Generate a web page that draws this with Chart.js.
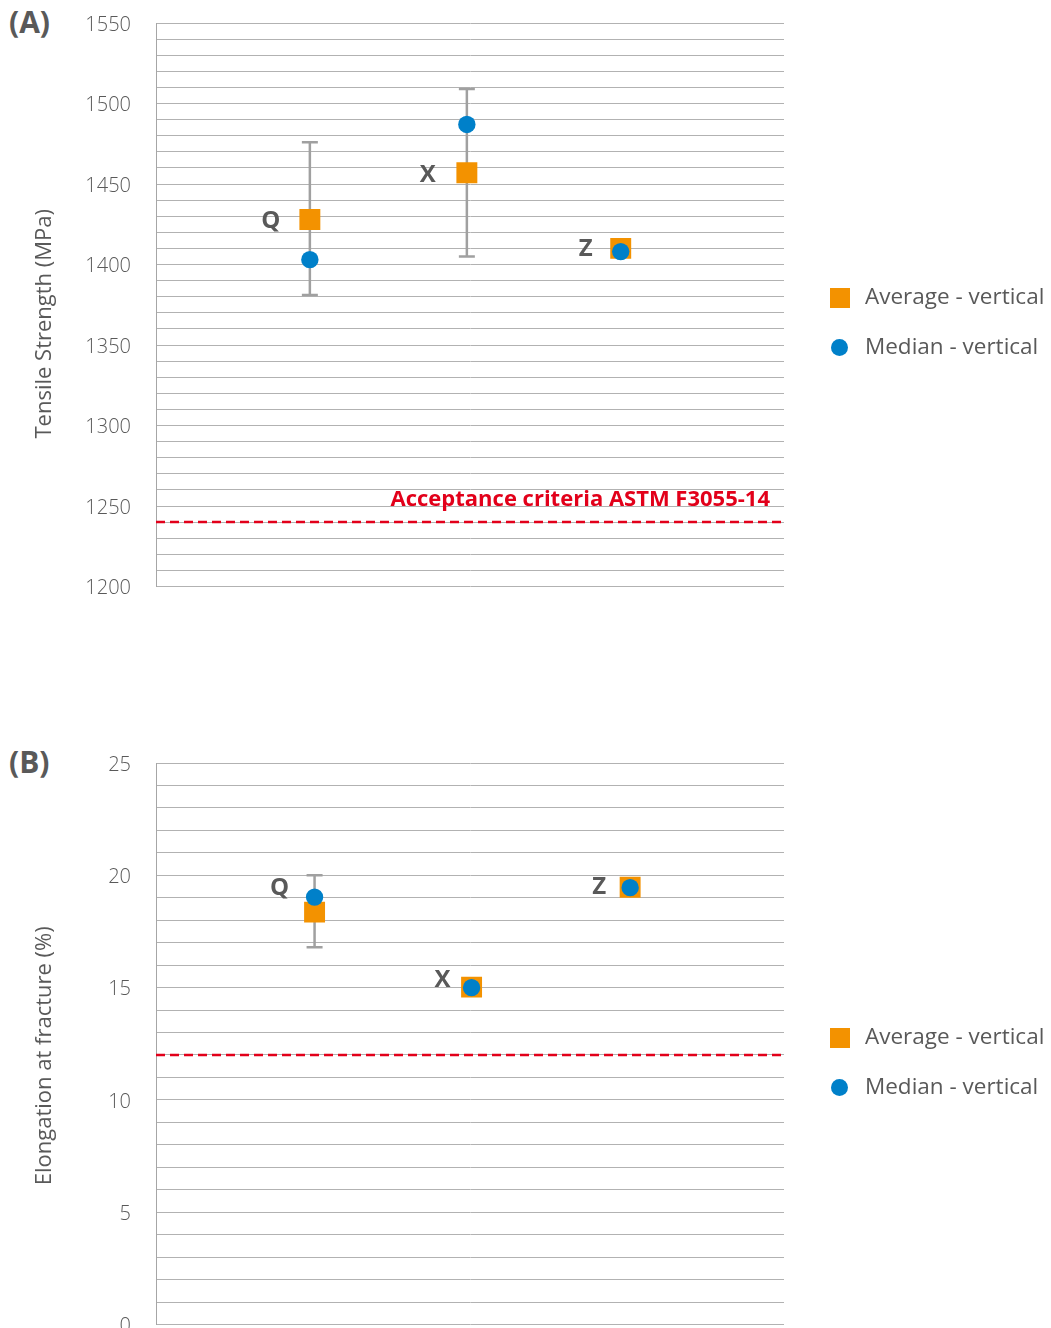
<!DOCTYPE html>
<html>
<head>
<meta charset="utf-8">
<script src="https://cdn.jsdelivr.net/npm/chart.js@4.4.1/dist/chart.umd.min.js"></script>
<style>
  body { margin: 0; background: #fff; width: 1051px; height: 1328px; overflow: hidden; position: relative; font-family: 'Open Sans', sans-serif; }
  .panel { position: absolute; left: 0; width: 1051px; }
  .tag { position: absolute; left: 9px; font: bold 30px 'Open Sans', sans-serif; color: #595959; line-height: 1; }
  .leg { position: absolute; left: 830px; font-size: 22.5px; color: #595959; }
  .leg .row { position: absolute; left: 0; white-space: nowrap; height: 24px; line-height: 24px; }
  .leg .sq { position: absolute; left: 0; top: 2px; width: 20px; height: 20px; background: #f39200; }
  .leg .dot { position: absolute; left: 1px; top: 3px; width: 17px; height: 17px; border-radius: 50%; background: #0080c9; }
  .leg .txt { position: absolute; left: 35px; top: -2px; }
</style>
</head>
<body>
<div class="tag" style="top:7px">(A)</div>
<div class="tag" style="top:747px">(B)</div>

<div class="panel" style="top:0;height:640px"><canvas id="chartA"></canvas></div>
<div class="panel" style="top:740px;height:620px"><canvas id="chartB"></canvas></div>

<div class="leg" style="top:286px">
  <div class="row" style="top:0"><span class="sq"></span><span class="txt">Average - vertical</span></div>
  <div class="row" style="top:50px"><span class="dot"></span><span class="txt">Median - vertical</span></div>
</div>
<div class="leg" style="top:1026px">
  <div class="row" style="top:0"><span class="sq"></span><span class="txt">Average - vertical</span></div>
  <div class="row" style="top:50px"><span class="dot"></span><span class="txt">Median - vertical</span></div>
</div>

<script>
// samples
const sampleNames = ['Q', 'X', 'Z'];

// (A) tensile strength, MPa
const tensileX = [0.98, 1.98, 2.96];
const tensileAverage = [1428, 1457, 1410];
const tensileMedian = [1403, 1487, 1408];
const tensileErrLow = [1381, 1405, null];
const tensileErrHigh = [1476, 1509, null];
const tensileLimit = 1240;
const tensileTickLabels = [1200, 1250, 1300, 1350, 1400, 1450, 1500, 1550];

// (B) elongation at fracture, %
const elongX = [1.01, 2.01, 3.02];
const elongAverage = [18.36, 15.02, 19.47];
const elongMedian = [19.03, 15.0, 19.45];
const elongErrLow = [16.8, null, null];
const elongErrHigh = [20.0, null, null];
const elongLimit = 12;
const elongTickLabels = [0, 5, 10, 15, 20, 25];

const GREY = '#595959'
const ORANGE = '#f39200'
const BLUE = '#0080c9'
const RED = '#e2001a'
const FONT = "'Open Sans', sans-serif"

// error bars, point names, axis title and limit caption
const extras = {
  id: 'extras',
  beforeDatasetsDraw(chart, args, o) {
    let ctx = chart.ctx, xs = chart.scales.x, ys = chart.scales.y
    ctx.save()
    ctx.strokeStyle = '#a0a0a0'
    ctx.lineWidth = 2.5
    o.xs.forEach(function (xv, i) {
      if (o.low[i] == null) return
      let px = xs.getPixelForValue(xv)
      let y1 = ys.getPixelForValue(o.low[i])
      let y2 = ys.getPixelForValue(o.high[i])
      ctx.beginPath()
      ctx.moveTo(px, y1); ctx.lineTo(px, y2)
      ctx.moveTo(px - 8, y1); ctx.lineTo(px + 8, y1)
      ctx.moveTo(px - 8, y2); ctx.lineTo(px + 8, y2)
      ctx.stroke()
    })
    ctx.restore()
  },
  afterDraw(chart, args, o) {
    let ctx = chart.ctx, xs = chart.scales.x, ys = chart.scales.y, area = chart.chartArea
    ctx.save()
    // sample names next to the average marker
    ctx.fillStyle = GREY
    ctx.font = 'bold 24px ' + FONT
    ctx.textAlign = 'center'
    ctx.textBaseline = 'middle'
    sampleNames.forEach(function (name, i) {
      let px = xs.getPixelForValue(o.xs[i]) + o.nameOffset[i][0]
      let py = ys.getPixelForValue(o.avg[i]) + o.nameOffset[i][1]
      ctx.fillText(name, px, py)
    })
    // y title
    ctx.font = '22px ' + FONT
    ctx.translate(45, (area.top + area.bottom) / 2 + o.titleShift)
    ctx.rotate(-Math.PI / 2)
    ctx.fillText(o.title, 0, 0)
    ctx.restore()
    if (o.caption) {
      ctx.save()
      ctx.fillStyle = RED
      ctx.font = 'bold 22px ' + FONT
      ctx.textAlign = 'right'
      ctx.textBaseline = 'middle'
      ctx.fillText(o.caption, area.right - 14, ys.getPixelForValue(o.limit) - 22)
      ctx.restore()
    }
  }
}

function makeChart(id, c) {
  let data = {
    datasets: [
      {
        label: 'Median - vertical',
        data: c.xs.map((x, i) => ({ x: x, y: c.median[i] })),
        pointStyle: 'circle', pointRadius: 8.7, pointBorderWidth: 0,
        backgroundColor: BLUE, borderColor: BLUE, order: 1
      },
      {
        label: 'Average - vertical',
        data: c.xs.map((x, i) => ({ x: x, y: c.avg[i] })),
        pointStyle: 'rect', pointRadius: 14.8, pointBorderWidth: 0,
        backgroundColor: ORANGE, borderColor: ORANGE, order: 2
      },
      {
        label: 'limit',
        data: [{ x: 0, y: c.limit }, { x: 4, y: c.limit }],
        showLine: true, pointRadius: 0, borderColor: RED, borderWidth: 2.5,
        borderDash: [9, 5], order: 3
      }
    ]
  }
  return new Chart(document.getElementById(id), {
    type: 'scatter',
    data: data,
    plugins: [extras],
    options: {
      responsive: true,
      maintainAspectRatio: false,
      animation: false,
      layout: { padding: { left: 0, right: 267, top: c.padTop, bottom: c.padBottom } },
      plugins: {
        legend: { display: false },
        tooltip: { enabled: false },
        extras: c
      },
      scales: {
        x: { type: 'linear', min: 0, max: 4, display: false },
        y: {
          min: c.min, max: c.max,
          afterFit: function (s) {
            s.width = 156
            // tick padding is horizontal only here
            s.paddingTop = 0
            s.paddingBottom = 0
          },
          border: { color: '#a6a6a6', width: 1 },
          grid: { color: '#b2b2b2', lineWidth: 1, drawTicks: false },
          ticks: {
            stepSize: c.step, autoSkip: false, padding: 25, labelOffset: 2, color: GREY,
            font: { family: FONT, size: 20, weight: '300' },
            callback: v => c.tickLabels.includes(v) ? v : ''
          }
        }
      }
    }
  })
}

makeChart('chartA', {
  xs: tensileX, avg: tensileAverage, median: tensileMedian,
  low: tensileErrLow, high: tensileErrHigh, limit: tensileLimit,
  min: 1200, max: 1550, step: 10, tickLabels: tensileTickLabels,
  padTop: 23, padBottom: 53.5, title: 'Tensile Strength (MPa)', titleShift: 19,
  caption: 'Acceptance criteria ASTM F3055-14',
  nameOffset: [[-39, 2], [-39, 2], [-35, 1]]
})

makeChart('chartB', {
  xs: elongX, avg: elongAverage, median: elongMedian,
  low: elongErrLow, high: elongErrHigh, limit: elongLimit,
  min: 0, max: 25, step: 1, tickLabels: elongTickLabels,
  padTop: 23, padBottom: 35.5, title: 'Elongation at fracture (%)', titleShift: 12,
  caption: null,
  nameOffset: [[-35, -24], [-29, -7], [-31, 0]]
})
</script>
</body>
</html>
